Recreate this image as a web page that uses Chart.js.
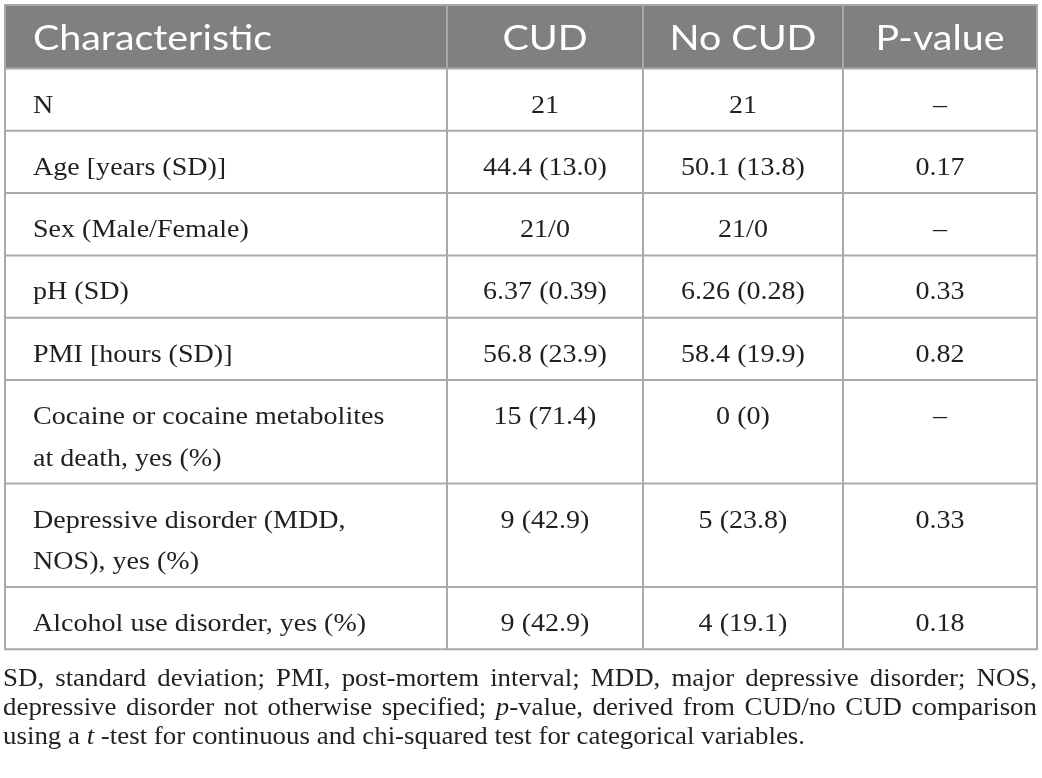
<!DOCTYPE html>
<html>
<head>
<meta charset="utf-8">
<script src="https://cdn.jsdelivr.net/npm/chart.js@4/dist/chart.umd.min.js"></script>
<style>
html,body{margin:0;padding:0;background:#ffffff;overflow:hidden;}
#wrap{width:1042px;height:778px;position:relative;}
canvas{display:block;}
</style>
</head>
<body>
<div id="wrap"><canvas id="c" width="1042" height="778"></canvas></div>
<script>
// ---------- data ----------
const headers = ['Characteristic', 'CUD', 'No CUD', 'P-value'];
const characteristics = [
  ['N'],
  ['Age [years (SD)]'],
  ['Sex (Male/Female)'],
  ['pH (SD)'],
  ['PMI [hours (SD)]'],
  ['Cocaine or cocaine metabolites', 'at death, yes (%)'],
  ['Depressive disorder (MDD,', 'NOS), yes (%)'],
  ['Alcohol use disorder, yes (%)']
];
const cudValues   = ['21', '44.4 (13.0)', '21/0', '6.37 (0.39)', '56.8 (23.9)', '15 (71.4)', '9 (42.9)', '9 (42.9)'];
const noCudValues = ['21', '50.1 (13.8)', '21/0', '6.26 (0.28)', '58.4 (19.9)', '0 (0)', '5 (23.8)', '4 (19.1)'];
const pValues     = ['–', '0.17', '–', '0.33', '0.82', '–', '0.33', '0.18'];
// footnote: text between underscores is italic
const footnoteLines = [
  'SD, standard deviation; PMI, post-mortem interval; MDD, major depressive disorder; NOS,',
  'depressive disorder not otherwise specified; _p_-value, derived from CUD/no CUD comparison',
  'using a _t_ -test for continuous and chi-squared test for categorical variables.'
];
const footnoteJustify = [true, true, false];

// ---------- layout (not data) ----------
const colWeights = [442, 196, 200, 194];
const headerHeight = 63.5;
const rowHeight = 62.3;
const extraLineHeight = 41.2;
const rowHeights = [headerHeight].concat(characteristics.map(c => rowHeight + (c.length - 1) * extraLineHeight));
const totalW = colWeights.reduce((a, b) => a + b, 0);
const totalH = rowHeights.reduce((a, b) => a + b, 0);

const bodyFont = 'Liberation Serif';
const headFont = 'Lato';
const textColor = '#231f20';
const headerBg = '#808080';
const gridColor = '#a9a9a9';

function parseSegments(str) {
  const parts = str.split('_');
  return parts.map((t, i) => ({ text: t, italic: i % 2 === 1 })).filter(s => s.text.length);
}

const tablePlugin = {
  id: 'tablePlugin',
  afterDraw(chart) {
    const ctx = chart.ctx;
    const xs = chart.scales.x, ys = chart.scales.y;
    const colEdges = [0];
    colWeights.forEach(w => colEdges.push(colEdges[colEdges.length - 1] + w));
    const rowEdges = [0];
    rowHeights.forEach(h => rowEdges.push(rowEdges[rowEdges.length - 1] + h));
    const cx = colEdges.map(v => xs.getPixelForValue(v));
    const ry = rowEdges.map(v => ys.getPixelForValue(v));

    ctx.save();
    ctx.fillStyle = headerBg;
    ctx.fillRect(cx[0], ry[0], cx[cx.length - 1] - cx[0], ry[1] - ry[0]);

    const hf = '400 34px "' + headFont + '"';
    const bf = '26px "' + bodyFont + '"';
    ctx.font = hf;
    const headSx = 239 / ctx.measureText('Characteristic').width;
    ctx.font = bf;
    const bodySx = 215 / ctx.measureText('Cocaine or cocaine').width;

    function drawText(text, x, y, align, font, sx, color) {
      ctx.save();
      ctx.font = font;
      ctx.fillStyle = color;
      ctx.textAlign = align;
      ctx.textBaseline = 'alphabetic';
      ctx.translate(x, y);
      ctx.scale(sx, 1);
      ctx.fillText(text, 0, 0);
      ctx.restore();
    }

    const headBase = ry[0] + 45;
    drawText(headers[0], cx[0] + 28, headBase, 'left', hf, headSx, '#ffffff');
    for (let c = 1; c < headers.length; c++) {
      drawText(headers[c], (cx[c] + cx[c + 1]) / 2, headBase, 'center', hf, headSx, '#ffffff');
    }

    const cols = [cudValues, noCudValues, pValues];
    characteristics.forEach((lines, r) => {
      const top = ry[r + 1];
      lines.forEach((ln, i) => {
        drawText(ln, cx[0] + 28, top + 44 + i * 41.5, 'left', bf, bodySx, textColor);
      });
      cols.forEach((arr, c) => {
        drawText(arr[r], (cx[c + 1] + cx[c + 2]) / 2, top + 44, 'center', bf, bodySx, textColor);
      });
    });

    ctx.strokeStyle = gridColor;
    ctx.lineWidth = 2;
    ry.forEach(y => {
      ctx.beginPath();
      ctx.moveTo(cx[0] - 1, y);
      ctx.lineTo(cx[cx.length - 1] + 1, y);
      ctx.stroke();
    });
    cx.forEach(x => {
      ctx.beginPath();
      ctx.moveTo(x, ry[0]);
      ctx.lineTo(x, ry[ry.length - 1]);
      ctx.stroke();
    });

    // footnote
    const fSize = 25;
    const fontFor = it => (it ? 'italic ' : '') + fSize + 'px "' + bodyFont + '"';
    const measureSeg = segs => segs.reduce((s, g) => { ctx.font = fontFor(g.italic); return s + ctx.measureText(g.text).width; }, 0);
    ctx.font = fontFor(false);
    const lastSegs = parseSegments(footnoteLines[2]);
    const lastW = measureSeg(lastSegs);
    const footSx = 802 / lastW;
    const fLeft = cx[0] - 2, fRight = cx[cx.length - 1];
    const fBase0 = ry[ry.length - 1] + 37;
    footnoteLines.forEach((line, li) => {
      const y = fBase0 + li * 29;
      const words = line.split(' ').map(w => parseSegments(w));
      ctx.font = fontFor(false);
      const spaceW = ctx.measureText(' ').width * footSx;
      const wordWs = words.map(ws => measureSeg(ws) * footSx);
      const sumW = wordWs.reduce((a, b) => a + b, 0);
      let gap = spaceW;
      if (footnoteJustify[li] && words.length > 1) gap = (fRight - fLeft - sumW) / (words.length - 1);
      let x = fLeft;
      words.forEach((ws, wi) => {
        let wx = x;
        ws.forEach(g => {
          drawText(g.text, wx, y, 'left', fontFor(g.italic), footSx, textColor);
          ctx.font = fontFor(g.italic);
          wx += ctx.measureText(g.text).width * footSx;
        });
        x += wordWs[wi] + gap;
      });
    });
    ctx.restore();
  }
};

const tableBottom = 5 + totalH;
new Chart(document.getElementById('c'), {
  type: 'scatter',
  data: { datasets: [{ data: [], showLine: false }] },
  options: {
    responsive: false,
    animation: false,
    layout: { padding: { left: 5, top: 5, right: 1042 - 5 - totalW, bottom: 778 - tableBottom } },
    scales: {
      x: { type: 'linear', min: 0, max: totalW, display: false },
      y: { type: 'linear', min: 0, max: totalH, reverse: true, display: false }
    },
    plugins: { legend: { display: false }, tooltip: { enabled: false } }
  },
  plugins: [tablePlugin]
});
</script>
</body>
</html>
